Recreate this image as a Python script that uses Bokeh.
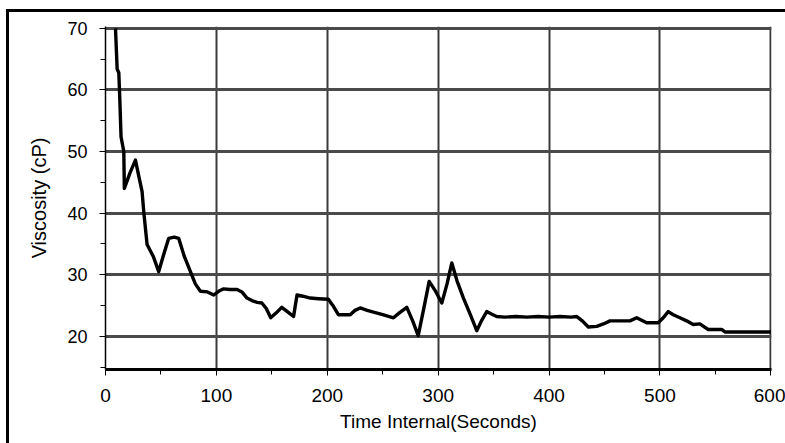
from bokeh.plotting import figure
from bokeh.models import Range1d, SingleIntervalTicker, ColumnDataSource
from bokeh.layouts import column
from bokeh.embed import file_html
from bokeh.resources import INLINE

# --- data ---
time_s = [9, 10.5, 12, 13, 14, 16.5, 17, 22, 27, 30,
          33, 34.5, 37.5, 43, 48, 52, 57, 62, 66, 71,
          76.6, 81, 85.6, 92, 97.6, 102, 106.6, 112, 118.6, 123,
          127.6, 132, 136.7, 141, 145, 149, 154, 159, 164, 169.6,
          172.7, 178, 184.7, 192, 201, 205, 210, 215, 220.7, 225,
          229.7, 236, 241.7, 250, 259.7, 265, 271.7, 277, 282, 287,
          291.9, 297, 303.3, 308, 312.3, 317, 322.8, 329, 334.8, 339,
          343.8, 348, 352.8, 360, 370, 380, 390, 400, 410, 420,
          425, 430, 435.4, 443, 449, 455, 465, 473, 479, 488,
          498.5, 503, 507.5, 512, 518, 524, 530, 536, 543.5, 550,
          555.6, 558.6, 580, 600]
viscosity_cp = [70, 63.4, 62.8, 58, 52.4, 50, 44, 46.5, 48.6, 46,
                43.5, 40.2, 34.9, 33, 30.5, 33, 35.9, 36.1, 35.9, 33,
                30.5, 28.5, 27.3, 27.2, 26.7, 27.3, 27.7, 27.6, 27.6, 27.2,
                26.2, 25.8, 25.5, 25.4, 24.5, 23.0, 23.8, 24.7, 24.0, 23.2,
                26.7, 26.5, 26.2, 26.1, 26.0, 25.0, 23.5, 23.5, 23.5, 24.2,
                24.6, 24.2, 23.9, 23.5, 23.0, 23.8, 24.7, 22.5, 20.1, 24.5,
                28.9, 27.5, 25.4, 28.5, 31.9, 29.0, 26.2, 23.5, 20.9, 22.5,
                24.0, 23.6, 23.2, 23.1, 23.2, 23.1, 23.2, 23.1, 23.2, 23.1,
                23.2, 22.5, 21.5, 21.6, 22.0, 22.5, 22.5, 22.5, 23.0, 22.2,
                22.2, 23.0, 24.0, 23.5, 23.0, 22.5, 21.9, 22.0, 21.1, 21.1,
                21.1, 20.7, 20.7, 20.7]
x_label = "Time Internal(Seconds)"
y_label = "Viscosity (cP)"

FONT = "Liberation Sans"

src = ColumnDataSource(dict(t=time_s, v=viscosity_cp))

p = figure(width=776, height=431, output_backend="svg", toolbar_location=None,
           x_range=Range1d(0, 600.6), y_range=Range1d(14.6, 70.3),
           min_border_left=96, min_border_right=14, min_border_top=14,
           min_border_bottom=74)
p.outline_line_color = None
p.background_fill_color = "white"
p.border_fill_color = "white"

p.line("t", "v", source=src, line_color="black", line_width=3.4, line_join="round")

xt = SingleIntervalTicker(interval=100, num_minor_ticks=2)
yt = SingleIntervalTicker(interval=10, num_minor_ticks=2)
p.xaxis.ticker = xt
p.yaxis.ticker = yt
p.xgrid.ticker = xt
p.ygrid.ticker = yt

p.xgrid.grid_line_color = "#3a3a3a"
p.xgrid.grid_line_width = 2
p.ygrid.grid_line_color = "#4a4a4a"
p.ygrid.grid_line_width = 3

for ax in (p.xaxis, p.yaxis):
    ax.axis_line_color = "black"
    ax.major_tick_line_color = "black"
    ax.minor_tick_line_color = "black"
    ax.major_tick_in = 0
    ax.major_tick_out = 6
    ax.minor_tick_in = 0
    ax.minor_tick_out = 5
    ax.major_label_text_font = FONT
    ax.major_label_text_color = "black"
    ax.axis_label_text_font = FONT
    ax.axis_label_text_font_style = "normal"
    ax.axis_label_text_color = "black"

p.xaxis.axis_line_width = 3
p.yaxis.axis_line_width = 1.5
p.xaxis.major_label_text_font_size = "19px"
p.yaxis.major_label_text_font_size = "18px"
p.xaxis.major_label_standoff = 13
p.yaxis.major_label_standoff = 12
p.xaxis.axis_label = x_label
p.yaxis.axis_label = y_label
p.xaxis.axis_label_text_font_size = "19px"
p.yaxis.axis_label_text_font_size = "20px"
p.xaxis.axis_label_standoff = 6
p.yaxis.axis_label_standoff = 14

layout = column(p, margin=(9, 0, 0, 6),
                styles={"border-top": "3px solid black", "border-left": "3px solid black",
                        "background-color": "white"})

open("out.html", "w").write(file_html(layout, INLINE))
